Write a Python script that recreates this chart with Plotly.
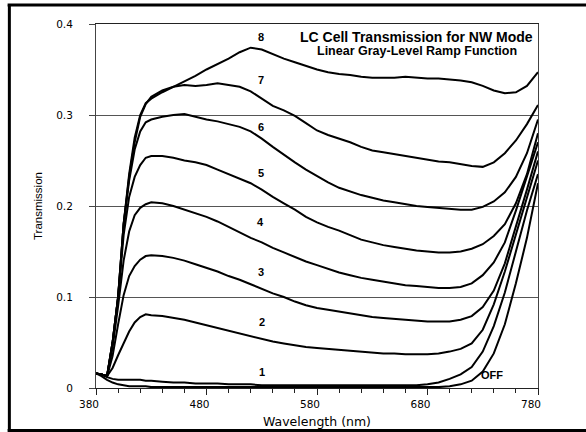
import plotly.graph_objects as go

wavelength = [380, 385, 390, 395, 400, 405, 410, 415, 420, 425, 430,
              440, 450, 460, 470, 480, 490, 500, 510, 520, 530, 540, 550, 560, 570, 580,
              590, 600, 610, 620, 630, 640, 650, 660, 670, 680, 690, 700, 710, 720, 730,
              740, 750, 760, 770, 780]

t8 = [0.016, 0.015, 0.013, 0.05, 0.10, 0.18, 0.235, 0.275, 0.30, 0.313, 0.318,
      0.325, 0.331, 0.337, 0.343, 0.35, 0.356, 0.362, 0.369, 0.374, 0.372, 0.367, 0.362, 0.358, 0.354, 0.35,
      0.347, 0.345, 0.344, 0.342, 0.341, 0.341, 0.341, 0.342, 0.341, 0.34, 0.34, 0.339, 0.338, 0.336, 0.332,
      0.327, 0.324, 0.325, 0.332, 0.347]
t7 = [0.016, 0.015, 0.013, 0.05, 0.10, 0.18, 0.232, 0.27, 0.298, 0.312, 0.32,
      0.327, 0.331, 0.333, 0.332, 0.333, 0.335, 0.333, 0.331, 0.326, 0.318, 0.31, 0.305, 0.299, 0.291, 0.283,
      0.278, 0.274, 0.27, 0.265, 0.261, 0.259, 0.257, 0.255, 0.253, 0.251, 0.249, 0.248, 0.246, 0.244, 0.243,
      0.248, 0.258, 0.272, 0.29, 0.311]
t6 = [0.016, 0.015, 0.013, 0.05, 0.10, 0.18, 0.228, 0.262, 0.282, 0.292, 0.295,
      0.298, 0.30, 0.301, 0.298, 0.295, 0.293, 0.29, 0.287, 0.282, 0.274, 0.265, 0.256, 0.248, 0.24, 0.233,
      0.226, 0.22, 0.216, 0.212, 0.209, 0.206, 0.204, 0.202, 0.2, 0.199, 0.198, 0.197, 0.196, 0.196, 0.199,
      0.205, 0.215, 0.232, 0.258, 0.295]
t5 = [0.016, 0.015, 0.013, 0.05, 0.10, 0.168, 0.21, 0.232, 0.245, 0.253, 0.255,
      0.255, 0.253, 0.25, 0.248, 0.245, 0.24, 0.235, 0.23, 0.225, 0.218, 0.21, 0.203, 0.196, 0.188, 0.182,
      0.177, 0.173, 0.168, 0.163, 0.16, 0.157, 0.155, 0.153, 0.151, 0.15, 0.149, 0.149, 0.15, 0.153, 0.158,
      0.167, 0.18, 0.203, 0.235, 0.28]
t4 = [0.016, 0.015, 0.013, 0.045, 0.09, 0.14, 0.172, 0.19, 0.198, 0.202, 0.204,
      0.203, 0.2, 0.196, 0.192, 0.188, 0.183, 0.177, 0.171, 0.165, 0.16, 0.154, 0.149, 0.144, 0.139, 0.135,
      0.131, 0.127, 0.124, 0.121, 0.119, 0.117, 0.115, 0.113, 0.112, 0.111, 0.11, 0.11, 0.111, 0.115, 0.124,
      0.138, 0.16, 0.195, 0.232, 0.27]
t3 = [0.016, 0.015, 0.013, 0.035, 0.07, 0.102, 0.123, 0.134, 0.141, 0.145, 0.146,
      0.145, 0.143, 0.14, 0.136, 0.132, 0.128, 0.123, 0.119, 0.114, 0.109, 0.104, 0.1, 0.095, 0.091, 0.088,
      0.086, 0.084, 0.082, 0.08, 0.078, 0.077, 0.076, 0.075, 0.074, 0.073, 0.073, 0.073, 0.075, 0.079, 0.089,
      0.107, 0.137, 0.177, 0.218, 0.26]
t2 = [0.016, 0.015, 0.013, 0.022, 0.036, 0.05, 0.062, 0.072, 0.078, 0.081, 0.08,
      0.079, 0.077, 0.075, 0.072, 0.069, 0.066, 0.063, 0.06, 0.057, 0.054, 0.051, 0.049, 0.047, 0.045, 0.044,
      0.043, 0.042, 0.041, 0.04, 0.039, 0.038, 0.038, 0.037, 0.037, 0.037, 0.038, 0.04, 0.043, 0.049, 0.064,
      0.092, 0.128, 0.168, 0.208, 0.25]
t1 = [0.016, 0.015, 0.012, 0.01, 0.009, 0.009, 0.009, 0.009, 0.009, 0.008, 0.008,
      0.007, 0.006, 0.006, 0.005, 0.005, 0.005, 0.004, 0.004, 0.004, 0.003, 0.003, 0.003, 0.003, 0.003, 0.003,
      0.003, 0.003, 0.003, 0.003, 0.003, 0.003, 0.003, 0.003, 0.003, 0.004, 0.006, 0.01, 0.015, 0.023, 0.04,
      0.068, 0.105, 0.15, 0.195, 0.235]
t_off = [0.016, 0.013, 0.009, 0.006, 0.004, 0.003, 0.002, 0.002, 0.002, 0.002, 0.001,
         0.001, 0.001, 0.001, 0.001, 0.001, 0.001, 0.001, 0.001, 0.001, 0.001, 0.001, 0.001, 0.001, 0.001, 0.001,
         0.001, 0.001, 0.001, 0.001, 0.001, 0.001, 0.001, 0.001, 0.001, 0.001, 0.001, 0.002, 0.004, 0.008, 0.018,
         0.038, 0.07, 0.115, 0.165, 0.225]

series = [t_off, t1, t2, t3, t4, t5, t6, t7, t8]
series_names = ["OFF", "1", "2", "3", "4", "5", "6", "7", "8"]

# curve label anchors (wavelength, transmission)
label_text = ["8", "7", "6", "5", "4", "3", "2", "1", "OFF"]
label_x = [529, 529, 529, 529, 529, 529, 530, 530, 738]
label_y = [0.386, 0.338, 0.287, 0.236, 0.182, 0.127, 0.073, 0.018, 0.014]

x_ticks = [380, 480, 580, 680, 780]
y_ticks = [0, 0.1, 0.2, 0.3, 0.4]
y_ticktext = ["0", "0.1", "0.2", "0.3", "0.4"]

title_lines = ["LC Cell Transmission for NW Mode", "Linear Gray-Level Ramp Function"]

fig = go.Figure()
for s, n in zip(series, series_names):
    fig.add_trace(go.Scatter(x=wavelength, y=s, mode="lines", name=n,
                             line=dict(color="black", width=2), showlegend=False))

for t, lx, ly in zip(label_text, label_x, label_y):
    fig.add_annotation(x=lx, y=ly, text="<b>" + t + "</b>", showarrow=False, xref="x", yref="y",
                       font=dict(family="Liberation Sans, Arial", size=11, color="black"),
                       xanchor="center", yanchor="middle")

fig.add_annotation(x=0.726, y=0.965, xref="paper", yref="paper", text="<b>" + title_lines[0] + "</b>",
                   showarrow=False, xanchor="center", yanchor="middle",
                   font=dict(family="Liberation Sans, Arial", size=14, color="black"))
fig.add_annotation(x=0.726, y=0.925, xref="paper", yref="paper", text="<b>" + title_lines[1] + "</b>",
                   showarrow=False, xanchor="center", yanchor="middle",
                   font=dict(family="Liberation Sans, Arial", size=12.5, color="black"))

# outer frame of the picture: left, top and bottom edges (right edge runs off the picture)
frame = dict(color="black", width=3)
fig.add_shape(type="line", xref="paper", yref="paper", x0=-0.196, x1=-0.196, y0=-0.117, y1=1.052, line=frame)
fig.add_shape(type="line", xref="paper", yref="paper", x0=-0.2, x1=1.2, y0=1.052, y1=1.052, line=frame)
fig.add_shape(type="line", xref="paper", yref="paper", x0=-0.2, x1=1.2, y0=-0.117, y1=-0.117, line=frame)

fig.update_layout(
    width=586, height=432,
    margin=dict(l=96, r=48, t=24, b=44, autoexpand=False),
    paper_bgcolor="white", plot_bgcolor="white",
    font=dict(family="DejaVu Sans", color="black"),
)
fig.update_xaxes(
    automargin=False,
    range=[380, 780], tickvals=x_ticks, ticktext=[str(v) for v in x_ticks],
    showgrid=False, zeroline=False, showline=True, linecolor="#222", linewidth=1.2, mirror=True,
    ticks="outside", ticklen=6, tickcolor="#222", tickwidth=1,
    minor=dict(dtick=20, tick0=380, ticks="outside", ticklen=4, tickcolor="#222", showgrid=False),
    tickfont=dict(family="DejaVu Sans", size=10.5, color="black"),
    ticklabelshift=-7,
    title=dict(text="Wavelength (nm)", font=dict(family="DejaVu Sans", size=12.5, color="black"), standoff=8),
)
fig.update_yaxes(
    automargin=False,
    range=[0, 0.4], tickvals=y_ticks, ticktext=y_ticktext,
    showgrid=True, gridcolor="#555", gridwidth=1, zeroline=False,
    showline=True, linecolor="#444", linewidth=1, mirror=True,
    ticks="outside", ticklen=6, tickcolor="#444",
    tickfont=dict(family="DejaVu Sans", size=10.5, color="black"),
    ticklabelstandoff=14,
    title=dict(text="Transmission", font=dict(family="Liberation Sans, Arial", size=11.5, color="black"), standoff=11),
)

fig.write_html("out.html")
